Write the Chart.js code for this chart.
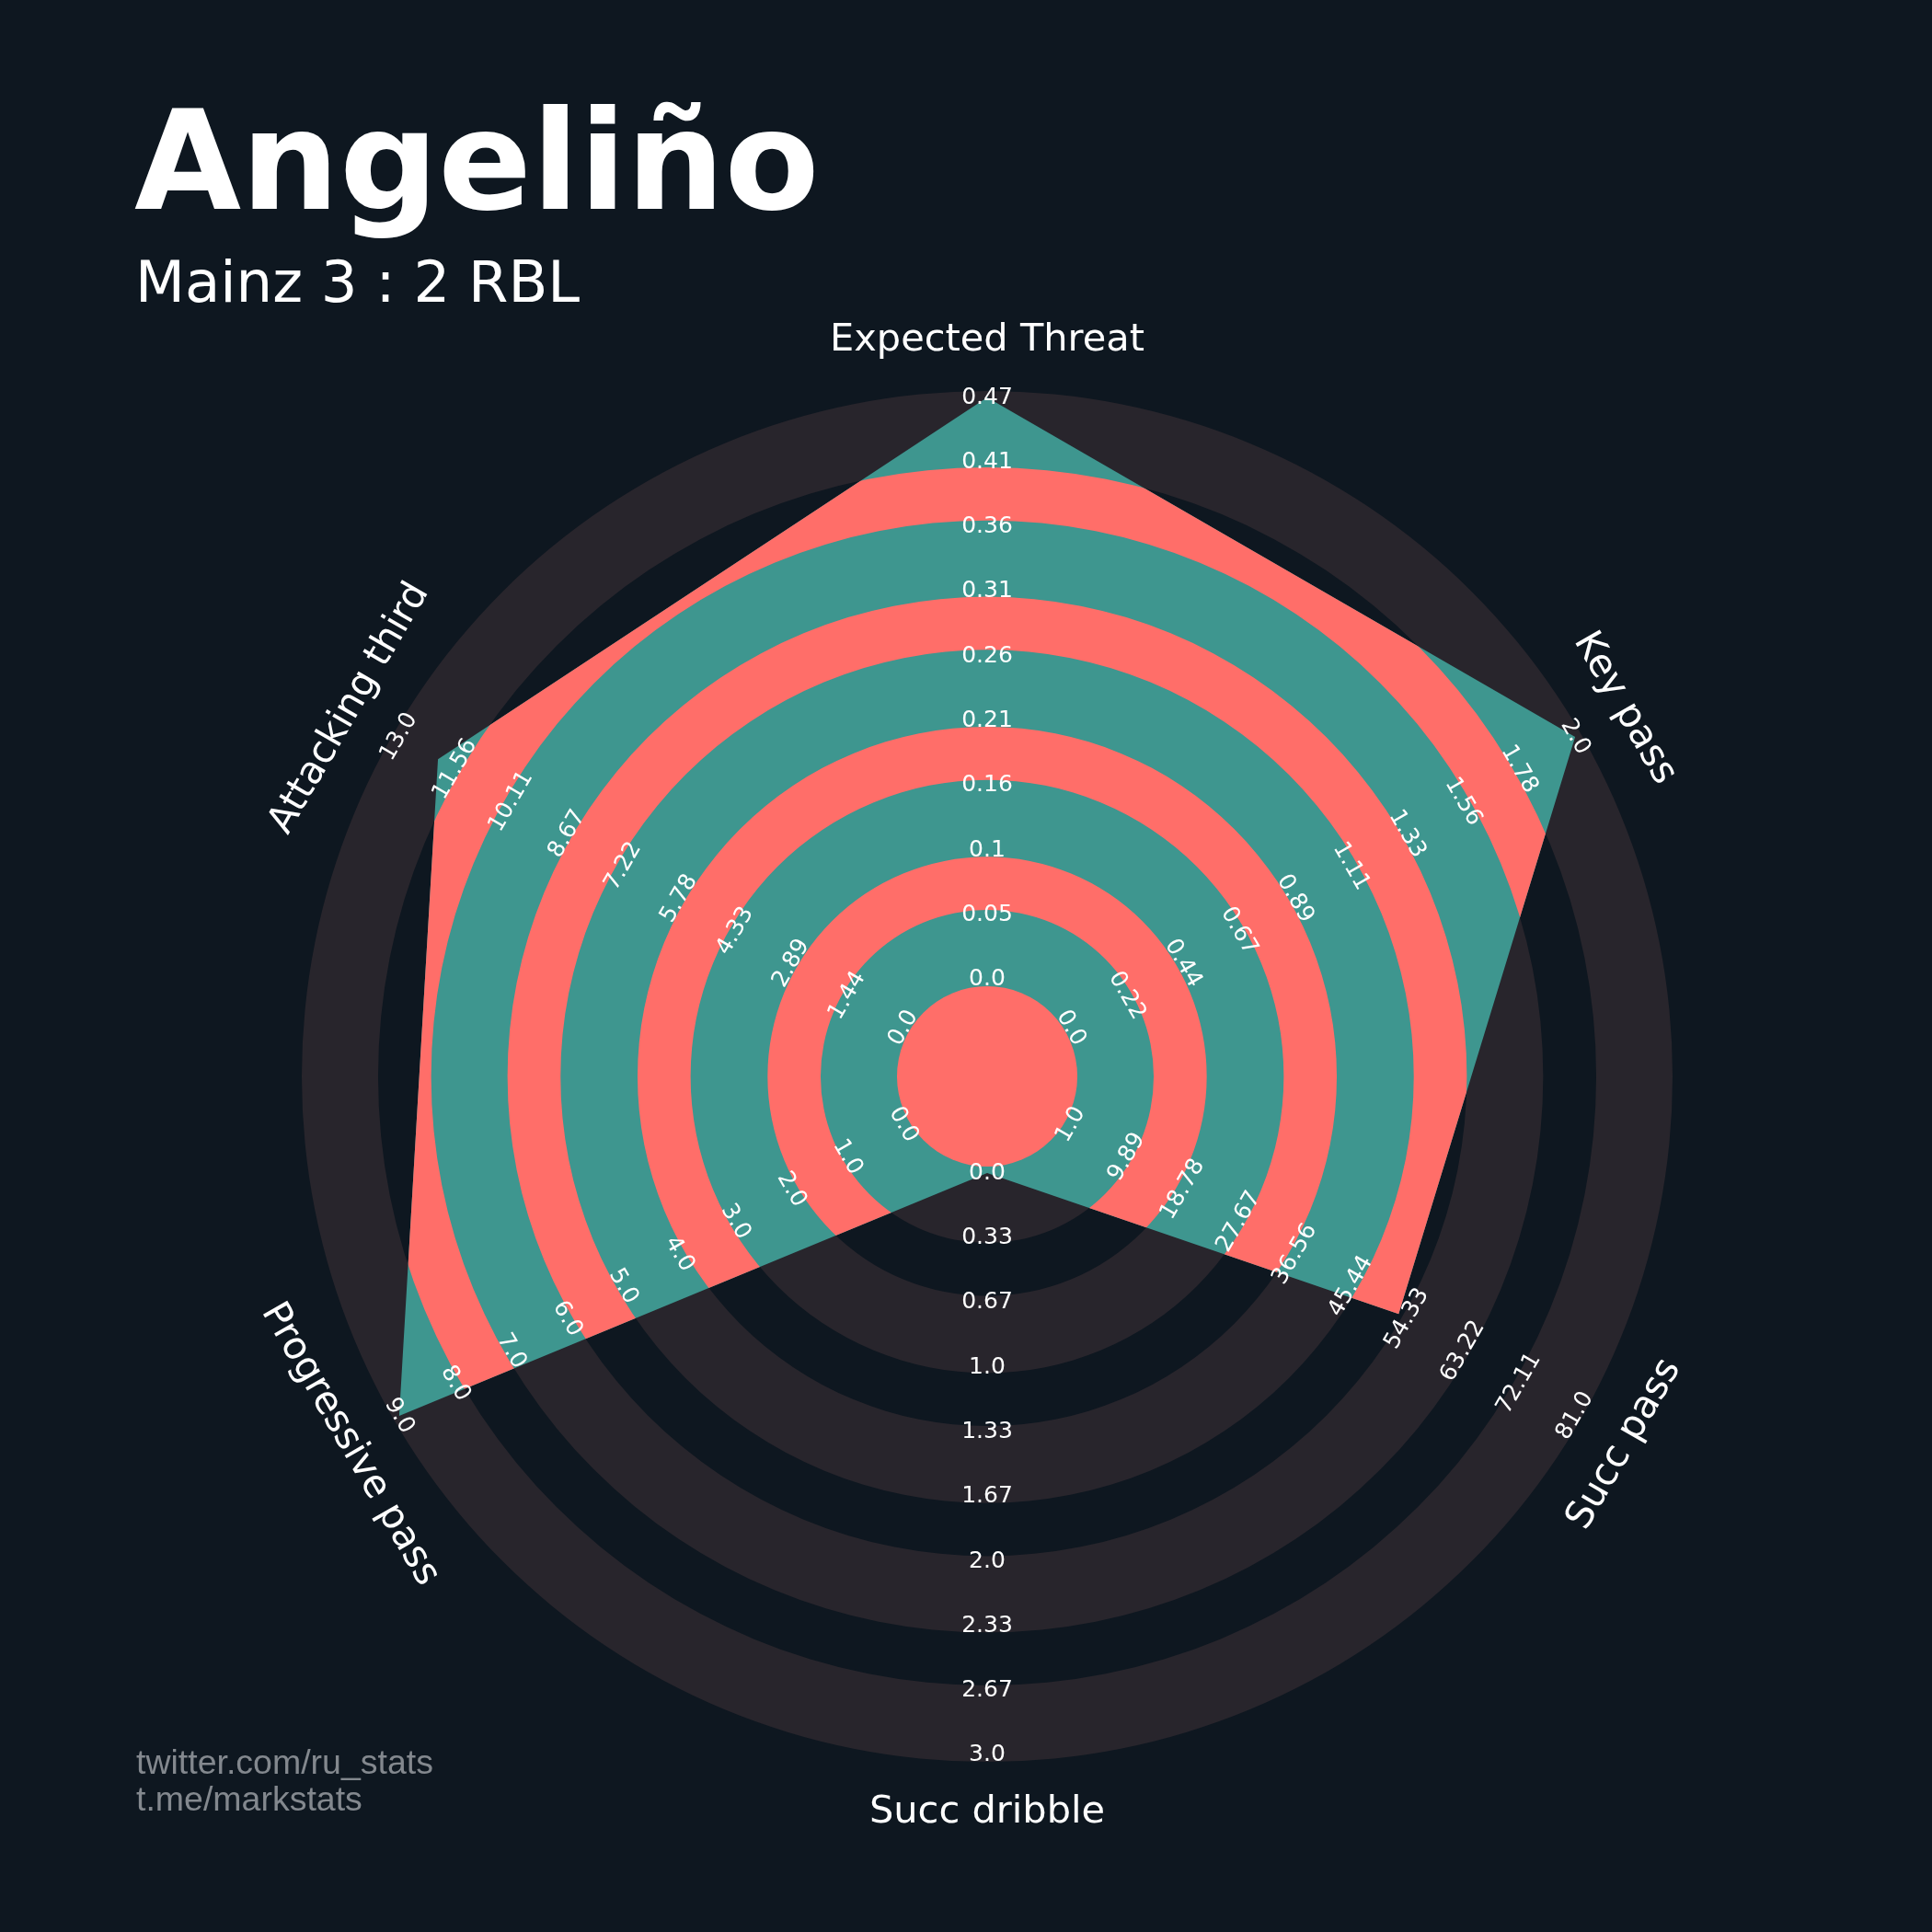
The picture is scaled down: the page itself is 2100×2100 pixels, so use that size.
<!DOCTYPE html>
<html>
<head>
<meta charset="utf-8">
<script src="https://cdn.jsdelivr.net/npm/chart.js@4/dist/chart.umd.min.js"></script>
<style>
  html, body { margin: 0; padding: 0; background: #0e1720; }
  #wrap { width: 2100px; height: 2100px; position: relative; }
  canvas { display: block; }
</style>
</head>
<body>
<div id="wrap"><canvas id="radar" width="2100" height="2100"></canvas></div>
<script>
// ---- data ----
const params = ['Expected Threat', 'Key pass', 'Succ pass', 'Succ dribble', 'Progressive pass', 'Attacking third'];
const lows   = [0, 0, 1, 0, 0, 0];
const highs  = [0.47, 2.0, 81, 3.0, 9.0, 13.0];
const values = [0.47, 2.0, 53, 0, 9.0, 12];

const xtTicks        = ['0.0', '0.05', '0.1', '0.16', '0.21', '0.26', '0.31', '0.36', '0.41', '0.47'];
const keyPassTicks   = ['0.0', '0.22', '0.44', '0.67', '0.89', '1.11', '1.33', '1.56', '1.78', '2.0'];
const succPassTicks  = ['1.0', '9.89', '18.78', '27.67', '36.56', '45.44', '54.33', '63.22', '72.11', '81.0'];
const dribbleTicks   = ['0.0', '0.33', '0.67', '1.0', '1.33', '1.67', '2.0', '2.33', '2.67', '3.0'];
const progPassTicks  = ['0.0', '1.0', '2.0', '3.0', '4.0', '5.0', '6.0', '7.0', '8.0', '9.0'];
const attThirdTicks  = ['0.0', '1.44', '2.89', '4.33', '5.78', '7.22', '8.67', '10.11', '11.56', '13.0'];
const tickLabels = [xtTicks, keyPassTicks, succPassTicks, dribbleTicks, progPassTicks, attThirdTicks];

const playerName = 'Angeliño';
const matchLine  = 'Mainz 3 : 2 RBL';
const credits    = ['twitter.com/ru_stats', 't.me/markstats'];

// ---- style ----
const BG    = '#0e1720';
const RING  = '#28252c';
const TEAL  = '#3e968f';
const CORAL = '#ff6e69';
const STEP  = 1 / 9;                       // one tick step on every axis
// ring edges in tick steps; bands alternate ring colour / gap colour
const RING_EDGES = [-0.1, 1.08, 1.9, 3.09, 3.91, 5.1, 5.92, 7.1, 7.92, 9.1];

// each axis is scaled to 0..1 between its low and high
const normalised = values.map((v, i) => (v - lows[i]) / (highs[i] - lows[i]));

function annulus(ctx, cx, cy, r0, r1) {
  ctx.beginPath();
  ctx.arc(cx, cy, r1, 0, Math.PI * 2);
  if (r0 > 0) ctx.arc(cx, cy, r0, 0, Math.PI * 2, true);
  ctx.fill();
}

const ringsPlugin = {
  id: 'rings',
  beforeDraw(chart) {
    const ctx = chart.ctx;
    ctx.save();
    ctx.fillStyle = BG;
    ctx.fillRect(0, 0, chart.width, chart.height);
    const s = chart.scales.r;
    ctx.fillStyle = RING;
    for (let b = 0; b < RING_EDGES.length - 1; b += 2) {
      annulus(ctx, s.xCenter, s.yCenter,
        s.getDistanceFromCenterForValue(RING_EDGES[b] * STEP),
        s.getDistanceFromCenterForValue(RING_EDGES[b + 1] * STEP));
    }
    ctx.restore();
  },
  afterDatasetsDraw(chart) {
    // coral rings, visible only inside the player polygon
    const ctx = chart.ctx;
    const s = chart.scales.r;
    const pts = chart.getDatasetMeta(0).data;
    ctx.save();
    ctx.beginPath();
    pts.forEach((p, i) => (i ? ctx.lineTo(p.x, p.y) : ctx.moveTo(p.x, p.y)));
    ctx.closePath();
    ctx.clip();
    ctx.fillStyle = CORAL;
    annulus(ctx, s.xCenter, s.yCenter, 0, s.getDistanceFromCenterForValue(RING_EDGES[0] * STEP));
    for (let b = 1; b < RING_EDGES.length - 1; b += 2) {
      annulus(ctx, s.xCenter, s.yCenter,
        s.getDistanceFromCenterForValue(RING_EDGES[b] * STEP),
        s.getDistanceFromCenterForValue(RING_EDGES[b + 1] * STEP));
    }
    ctx.restore();
  },
  afterDraw(chart) {
    const ctx = chart.ctx;
    const s = chart.scales.r;
    ctx.save();
    ctx.fillStyle = '#ffffff';
    ctx.textAlign = 'center';
    ctx.textBaseline = 'middle';
    params.forEach((name, i) => {
      const deg = i * 360 / params.length;
      let rot = deg % 180;
      if (rot > 90) rot -= 180;
      const a = rot * Math.PI / 180;
      // range labels along the spoke
      ctx.font = '25px "DejaVu Sans"';
      tickLabels[i].forEach((t, k) => {
        const p = s.getPointPosition(i, s.getDistanceFromCenterForValue(k * STEP));
        ctx.save();
        ctx.translate(p.x, p.y);
        ctx.rotate(a);
        ctx.fillText(t, 0, 0);
        ctx.restore();
      });
      // parameter name beyond the outer ring
      ctx.font = '41.5px "DejaVu Sans"';
      const q = s.getPointPosition(i, s.drawingArea + 55);
      ctx.save();
      ctx.translate(q.x, q.y);
      ctx.rotate(a);
      ctx.fillText(name, 0, 0);
      ctx.restore();
    });

    ctx.textAlign = 'left';
    ctx.textBaseline = 'alphabetic';
    ctx.font = 'bold 150px "DejaVu Sans"';
    ctx.fillText(playerName, 146, 227);
    ctx.font = '62.5px "DejaVu Sans"';
    ctx.fillText(matchLine, 147, 328);
    ctx.fillStyle = '#83888e';
    ctx.font = '37.5px "Liberation Sans"';
    credits.forEach((c, j) => ctx.fillText(c, 148, 1928 + j * 40));
    ctx.restore();
  }
};

new Chart(document.getElementById('radar'), {
  type: 'radar',
  data: {
    labels: params,
    datasets: [{
      data: normalised,
      backgroundColor: TEAL,
      borderWidth: 0,
      borderColor: 'rgba(0,0,0,0)',
      pointRadius: 0,
      pointHoverRadius: 0,
      fill: 'start'
    }]
  },
  options: {
    responsive: false,
    animation: false,
    devicePixelRatio: 1,
    layout: { padding: { left: 328, right: 282, top: 425, bottom: 185 } },
    plugins: { legend: { display: false }, tooltip: { enabled: false } },
    scales: {
      r: {
        min: -0.166,
        max: 1.0111,
        ticks: { display: false },
        grid: { display: false },
        angleLines: { display: false },
        pointLabels: { display: false }
      }
    }
  },
  plugins: [ringsPlugin]
});
</script>
</body>
</html>
